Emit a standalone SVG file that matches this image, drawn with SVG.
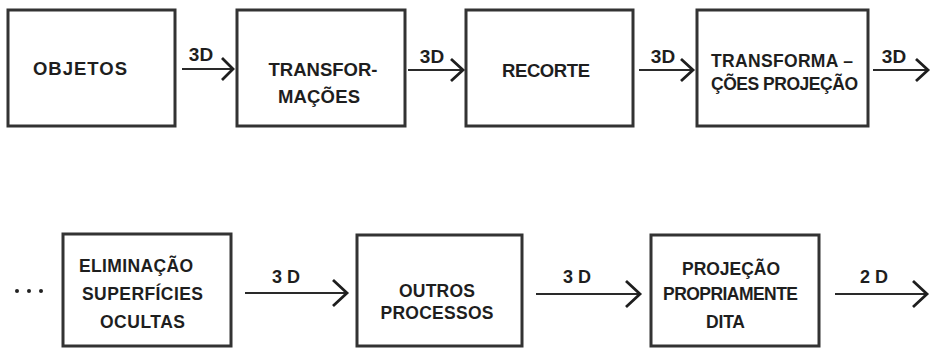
<svg xmlns="http://www.w3.org/2000/svg" width="933" height="349" viewBox="0 0 933 349">
<defs>
<style>
.box{fill:#fff;stroke:#333;stroke-width:3}
.t{font-family:"Liberation Sans",Arial,sans-serif;font-weight:bold;font-size:18.5px;fill:#1e1e1e;text-anchor:middle}
.t2{font-family:"Liberation Sans",Arial,sans-serif;font-weight:bold;font-size:17.5px;fill:#1e1e1e;text-anchor:middle}
.lab{font-family:"Liberation Sans",Arial,sans-serif;font-weight:bold;font-size:19px;fill:#1e1e1e;text-anchor:middle}
.lab2{font-family:"Liberation Sans",Arial,sans-serif;font-weight:bold;font-size:18px;fill:#1e1e1e;text-anchor:middle}
.ln{fill:none;stroke:#2a2a2a;stroke-width:2.2}
.hd{fill:none;stroke:#1e1e1e;stroke-width:2.8;stroke-linejoin:miter}
</style>
</defs>
<rect width="933" height="349" fill="#fff"/>
<g id="n1"><rect class="box" x="8" y="10" width="167" height="116"/><text class="t" x="80" y="75" textLength="94" lengthAdjust="spacing">OBJETOS</text></g>
<g id="n2"><rect class="box" x="237" y="10" width="168" height="116"/><text class="t" x="323" y="76" textLength="109" lengthAdjust="spacing">TRANSFOR-</text><text class="t" x="319" y="103" textLength="82" lengthAdjust="spacing">MAÇÕES</text></g>
<g id="n3"><rect class="box" x="466" y="10" width="167" height="116"/><text class="t" x="546" y="77" textLength="88" lengthAdjust="spacing">RECORTE</text></g>
<g id="n4"><rect class="box" x="697" y="10" width="171" height="116"/><text class="t2" x="782" y="67" textLength="142" lengthAdjust="spacing">TRANSFORMA –</text><text class="t2" x="784.5" y="90" textLength="147" lengthAdjust="spacing">ÇÕES PROJEÇÃO</text></g>
<g id="dots"><circle cx="17" cy="291" r="2" fill="#222"/><circle cx="29" cy="291" r="2" fill="#222"/><circle cx="41" cy="291" r="2" fill="#222"/></g>
<g id="n5"><rect class="box" x="63" y="234" width="168" height="112"/><text class="t2" x="136" y="272" textLength="114" lengthAdjust="spacing">ELIMINAÇÃO</text><text class="t2" x="142.5" y="300" textLength="121" lengthAdjust="spacing">SUPERFÍCIES</text><text class="t2" x="142.5" y="328" textLength="85" lengthAdjust="spacing">OCULTAS</text></g>
<g id="n6"><rect class="box" x="357" y="235" width="165" height="111"/><text class="t2" x="437" y="297" textLength="76" lengthAdjust="spacing">OUTROS</text><text class="t2" x="437" y="319" textLength="113" lengthAdjust="spacing">PROCESSOS</text></g>
<g id="n7"><rect class="box" x="651" y="235" width="168" height="111"/><text class="t2" x="731" y="275" textLength="98" lengthAdjust="spacing">PROJEÇÃO</text><text class="t2" x="730.5" y="300" textLength="135" lengthAdjust="spacing">PROPRIAMENTE</text><text class="t2" x="725.5" y="328" textLength="39" lengthAdjust="spacing">DITA</text></g>
<g id="connectors">
<line class="ln" x1="182" y1="69" x2="232" y2="69"/><polyline class="hd" points="222,58 233,69 222,80"/>
<text class="lab" x="201" y="61">3D</text>
<line class="ln" x1="408" y1="70" x2="462" y2="70"/><polyline class="hd" points="451,59 463,70 451,81"/>
<text class="lab" x="432" y="63">3D</text>
<line class="ln" x1="639" y1="70" x2="692" y2="70"/><polyline class="hd" points="681,59 693,70 681,81"/>
<text class="lab" x="663" y="63">3D</text>
<line class="ln" x1="873" y1="70" x2="927" y2="70"/><polyline class="hd" points="916,59 928,70 916,81"/>
<text class="lab" x="894" y="63">3D</text>
<line class="ln" x1="245" y1="293" x2="346" y2="293"/><polyline class="hd" points="333,280 347,293 333,306"/>
<text class="lab2" x="286" y="283">3 D</text>
<line class="ln" x1="536" y1="294" x2="639" y2="294"/><polyline class="hd" points="626,281 640,294 626,307"/>
<text class="lab2" x="577" y="283">3 D</text>
<line class="ln" x1="835" y1="294" x2="926" y2="294"/><polyline class="hd" points="913,281 927,294 913,307"/>
<text class="lab2" x="874" y="283">2 D</text>
</g>
</svg>
